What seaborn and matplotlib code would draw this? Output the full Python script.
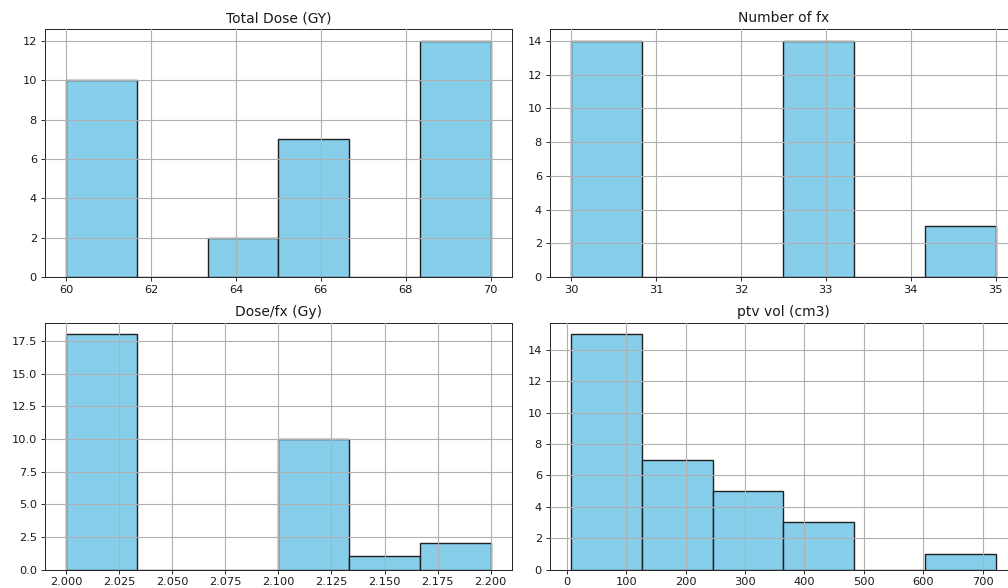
import numpy as np
import pandas as pd
import matplotlib
matplotlib.use("Agg")
import matplotlib.pyplot as plt
import seaborn as sns

# ---- data ----
total_dose = [60] * 10 + [64] * 2 + [66] * 7 + [70] * 12
number_fx = [30] * 14 + [33] * 14 + [35] * 3
dose_per_fx = [2.0] * 18 + [2.12] * 10 + [2.15] * 1 + [2.2] * 2
ptv_vol = [7.2, 18, 25, 34, 41, 52, 60, 68, 75, 83, 90, 98, 105, 112, 121,
           135, 150, 168, 182, 198, 214, 236,
           256, 278, 301, 327, 352,
           378, 412, 455,
           722]
titles = ["Total Dose (GY)", "Number of fx", "Dose/fx (Gy)", "ptv vol (cm3)"]

df = pd.DataFrame({titles[0]: total_dose, titles[1]: number_fx,
                   titles[2]: dose_per_fx, titles[3]: ptv_vol})

S = 0.8
plt.rcParams.update({
    "font.family": ["DejaVu Sans"],
    "xtick.labelsize": 8.2, "ytick.labelsize": 8.2,
    "xtick.major.size": 3.5 * S, "ytick.major.size": 3.5 * S,
    "xtick.major.width": 0.8 * S, "ytick.major.width": 0.8 * S,
    "xtick.major.pad": 3.5 * S, "ytick.major.pad": 3.5 * S,
    "axes.linewidth": 0.9 * S,
    "axes.titlesize": 10.0, "axes.titlepad": 6 * S,
    "text.color": "#1a1a1a", "xtick.color": "#1a1a1a", "ytick.color": "#1a1a1a",
    "axes.edgecolor": "#262626",
})

fig = plt.figure(figsize=(10.08, 5.88), dpi=100)
W = 1008.0
H = 588.0
positions = [
    (44.75 / W, 1 - 277 / H, (512 - 44.75) / W, 248 / H),
    (549.75 / W, 1 - 277 / H, (512 - 44.75) / W, 248 / H),
    (44.75 / W, 1 - 569.5 / H, (512 - 44.75) / W, 246.8 / H),
    (549.75 / W, 1 - 569.5 / H, (512 - 44.75) / W, 246.8 / H),
]

for pos, col in zip(positions, titles):
    ax = fig.add_axes(pos)
    sns.histplot(data=df, x=col, bins=6, ax=ax, color="#87CEEB",
                 edgecolor="#1f1f1f", linewidth=1.0, alpha=1.0)
    ax.set_axisbelow(False)
    ax.grid(True, color="#b0b0b0", linewidth=0.8)
    ax.set_title(col)
    ax.set_xlabel("")
    ax.set_ylabel("")
    for sp in ax.spines.values():
        sp.set_visible(True)

fig.savefig("out.png", dpi=100)
